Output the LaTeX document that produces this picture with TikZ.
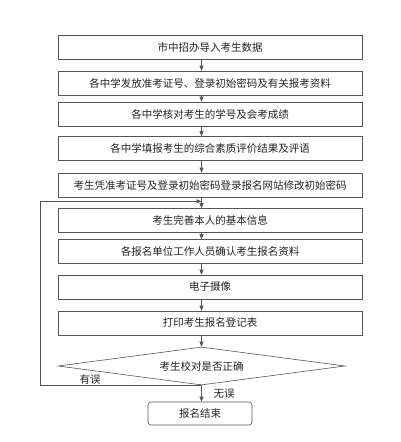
\documentclass[tikz,border=0pt]{standalone}
\usepackage{fontspec}
\setmainfont{Noto Sans CJK SC}
\usepackage{tikz}
\usetikzlibrary{arrows.meta,positioning,shapes.geometric,calc}
\definecolor{edge}{HTML}{555555}
\definecolor{ink}{HTML}{222222}

\begin{document}
\begin{tikzpicture}[x=1pt,y=-1pt,
    stepbox/.style={draw=edge,semithick,minimum width=304pt,minimum height=24pt,inner sep=0pt,font=\fontsize{10.5pt}{12pt}\selectfont,text=ink},
    endbox/.style={stepbox,rounded corners=3pt,minimum width=104pt,minimum height=23pt},
    check/.style={draw=edge,semithick,diamond,shape aspect=7.55,minimum width=287pt,minimum height=38pt,inner sep=0pt,font=\fontsize{10.5pt}{12pt}\selectfont,text=ink},
    flow/.style={draw=edge,semithick,-{Triangle[length=5pt,width=4pt]}},
    tag/.style={font=\fontsize{10.5pt}{12pt}\selectfont,text=ink}]
  \useasboundingbox (0,0) rectangle (400,442);

  % process steps
  \node[stepbox] (import) at (210,47) {市中招办导入考生数据};
  \node[stepbox] (issue) at (210,83) {各中学发放准考证号、登录初始密码及有关报考资料};
  \node[stepbox] (verify) at (210,114) {各中学核对考生的学号及会考成绩};
  \node[stepbox] (assess) at (210,148.5) {各中学填报考生的综合素质评价结果及评语};
  \node[stepbox] (login) at (210,185) {考生凭准考证号及登录初始密码登录报名网站修改初始密码};
  \node[stepbox] (info) at (210,220.5) {考生完善本人的基本信息};
  \node[stepbox] (confirm) at (210,251.5) {各报名单位工作人员确认考生报名资料};
  \node[stepbox] (photo) at (210,287) {电子摄像};
  \node[stepbox] (print) at (210,323) {打印考生报名登记表};

  % decision and end
  \node[check] (dec) at (201.5,366) {考生校对是否正确};
  \node[endbox] (done) at (200,413.5) {报名结束};

  % arrows down the column
  \foreach \a/\b in {import/issue,issue/verify,verify/assess,assess/login,login/info,info/confirm,confirm/photo,photo/print,print/dec}
    \draw[flow] (\a.south -| dec.north) -- (\b.north -| dec.north);
  \draw[flow] (dec.south) -- (done.north -| dec.south);

  % loop back when wrong
  \coordinate (merge) at ($(login.south -| dec.north)+(0,4)$);
  \draw[flow] (dec.south) -- ++(-161.5,0) |- (merge);

  \node[tag] (wrong) at (90,380) {有误};
  \node[tag] (right) at (224,394) {无误};
\end{tikzpicture}
\end{document}
